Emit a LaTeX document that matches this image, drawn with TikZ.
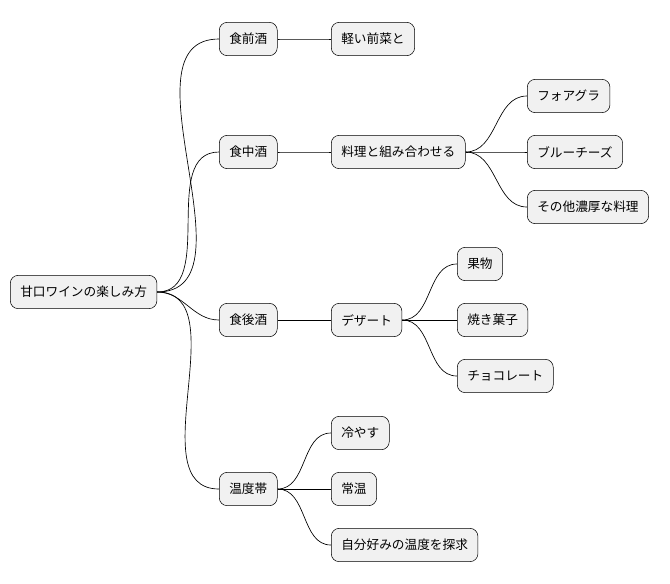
\documentclass[tikz,border=0pt]{standalone}
\usepackage{fontspec}
\setmainfont{Noto Sans CJK JP}
\usetikzlibrary{positioning}
\definecolor{boxfill}{HTML}{F1F1F1}
\begin{document}
\begin{tikzpicture}[
    x=0.75pt, y=-0.75pt,
    topic/.style={draw, fill=boxfill, rounded corners=6pt, anchor=west, minimum height=25pt, inner xsep=7.5pt, font=\fontsize{9.5}{11}\selectfont},
    link/.style={black, line width=0.5pt}
]
    \useasboundingbox (0,0) rectangle (670,583);

    % root
    \node[topic] (Root) at (10,292) {甘口ワインの楽しみ方};

    % first level
    \node[topic] (Pre) at (219,39) {食前酒};
    \node[topic] (Mid) at (219,152) {食中酒};
    \node[topic] (Post) at (219,320) {食後酒};
    \node[topic] (Temp) at (219,489) {温度帯};

    % second level
    \node[topic] (Appetizer) at (331,39) {軽い前菜と};
    \node[topic] (Pairing) at (331,152) {料理と組み合わせる};
    \node[topic] (Dessert) at (331,320) {デザート};
    \node[topic] (Cold) at (331,433) {冷やす};
    \node[topic] (Room) at (331,489) {常温};
    \node[topic] (Own) at (331,545) {自分好みの温度を探求};

    % third level
    \node[topic] (Foie) at (527,96) {フォアグラ};
    \node[topic] (Blue) at (527,152) {ブルーチーズ};
    \node[topic] (Rich) at (527,207) {その他濃厚な料理};
    \node[topic] (Fruit) at (457,264) {果物};
    \node[topic] (Baked) at (457,320) {焼き菓子};
    \node[topic] (Choco) at (457,376) {チョコレート};

    % connectors
    \foreach \a/\b in {Root/Pre, Root/Mid, Root/Post, Root/Temp,
                       Pre/Appetizer, Mid/Pairing, Post/Dessert,
                       Temp/Cold, Temp/Room, Temp/Own,
                       Pairing/Foie, Pairing/Blue, Pairing/Rich,
                       Dessert/Fruit, Dessert/Baked, Dessert/Choco}
        \draw[link] (\a.east) to[out=0, in=180] (\b.west);

\end{tikzpicture}
\end{document}
